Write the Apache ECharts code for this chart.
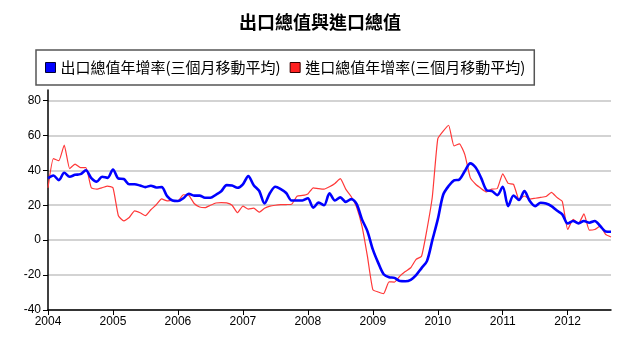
<!DOCTYPE html>
<html>
<head>
<meta charset="utf-8">
<script src="https://cdn.jsdelivr.net/npm/echarts@6/dist/echarts.min.js"></script>
<style>
  html, body { margin: 0; padding: 0; background: #fff; }
  #chart { width: 640px; height: 342px; }
</style>
</head>
<body>
<div id="chart"></div>
<script>
// Monthly observations, Jan 2004 – Sep 2012
const startYear = 2004;
const monthCount = 105;

// 出口總值年增率 (三個月移動平均), %
const exportGrowth = [
  35.4, 37.0, 34.4, 38.6, 36.3, 37.4, 37.8, 40.0, 35.5, 33.5, 36.3, 35.7,
  40.5, 35.3, 35.0, 32.0, 32.0, 31.3, 30.4, 31.2, 30.2, 30.4, 25.2, 22.7,
  22.4, 24.0, 26.6, 25.5, 25.5, 24.3, 24.3, 26.0, 28.0, 31.5, 31.3, 30.0,
  32.0, 36.7, 31.5, 28.3, 21.0, 27.0, 30.6, 29.2, 27.0, 22.7, 22.7, 22.7,
  24.0, 18.6, 21.5, 20.0, 26.8, 22.7, 24.5, 21.9, 23.5, 20.8, 11.9, 5.2,
  -5.3, -13.0, -19.5, -21.2, -21.6, -23.4, -23.5, -22.7, -20.0, -16.0, -12.0, 0.0,
  11.9, 26.0, 31.0, 34.2, 34.8, 39.6, 44.0, 41.6, 35.7, 28.7, 28.1, 25.8,
  30.6, 19.5, 25.6, 23.0, 28.1, 22.4, 19.5, 21.4, 21.0, 19.5, 17.0, 14.8,
  9.6, 11.0, 9.6, 11.0, 10.0, 11.0, 8.1, 5.0, 4.8
];

// 進口總值年增率 (三個月移動平均), %
const importGrowth = [
  30.0, 46.7, 45.5, 54.5, 41.0, 43.6, 41.5, 41.5, 30.0, 29.2, 30.0, 31.0,
  30.0, 14.0, 11.0, 13.0, 16.8, 15.7, 14.0, 17.4, 20.3, 23.6, 22.5, 22.7,
  22.5, 26.0, 25.7, 21.0, 19.0, 18.6, 20.0, 21.3, 21.5, 21.4, 20.0, 15.7,
  19.5, 17.8, 18.3, 16.0, 18.3, 19.5, 20.0, 20.3, 20.4, 20.6, 25.2, 25.6,
  26.5, 30.0, 29.5, 29.2, 30.6, 32.5, 35.2, 29.2, 25.0, 19.0, 8.0, -9.2,
  -28.3, -29.7, -30.6, -23.9, -24.0, -20.6, -18.0, -15.8, -11.0, -9.2, 6.1, 25.0,
  58.0, 62.4, 65.8, 54.0, 55.2, 49.0, 35.8, 32.0, 29.6, 27.6, 29.2, 29.6,
  38.0, 32.5, 32.0, 23.5, 25.3, 23.5, 24.0, 24.5, 25.0, 27.4, 24.5, 22.2,
  6.1, 11.9, 9.6, 15.0, 5.7, 6.1, 8.1, 3.3, 1.8
];

// One category per month; only Januaries get a year label
const months = [];
for (let i = 0; i < monthCount; i++) {
  const y = startYear + Math.floor(i / 12);
  const m = (i % 12) + 1;
  months.push(y + '-' + (m < 10 ? '0' + m : m));
}
const isJanuary = (idx) => idx % 12 === 0;

const latin = '"Liberation Sans", Arial, sans-serif';
const cjk = '"Noto Sans CJK TC", "Noto Sans CJK SC", sans-serif';

const chart = echarts.init(document.getElementById('chart'), null, { renderer: 'canvas' });
chart.setOption({
  animation: false,
  backgroundColor: '#ffffff',
  title: {
    text: '出口總值與進口總值',
    left: 'center',
    top: 8,
    textStyle: { fontFamily: cjk, fontSize: 18, fontWeight: 'bold', color: '#000' }
  },
  legend: {
    left: 36,
    top: 50,
    padding: [10, 9, 10, 9],
    itemGap: 9,
    itemWidth: 10,
    itemHeight: 10,
    borderColor: '#555',
    borderWidth: 1.5,
    textStyle: { fontFamily: cjk, fontSize: 15, color: '#000' },
    data: [
      { name: '出口總值年增率(三個月移動平均)', icon: 'rect', itemStyle: { color: '#0000ff', borderColor: '#000033', borderWidth: 1 } },
      { name: '進口總值年增率(三個月移動平均)', icon: 'rect', itemStyle: { color: '#ff2020', borderColor: '#330000', borderWidth: 1 } }
    ]
  },
  grid: { left: 48, right: 29, top: 90, bottom: 32, containLabel: false },
  xAxis: {
    type: 'category',
    data: months,
    boundaryGap: false,
    axisLine: { onZero: false, lineStyle: { color: '#000', width: 1.5 } },
    axisTick: { interval: (idx) => isJanuary(idx), length: 5, lineStyle: { color: '#000' } },
    axisLabel: {
      interval: (idx) => isJanuary(idx),
      formatter: (v) => v.slice(0, 4),
      fontFamily: latin, fontSize: 12, color: '#000', margin: 6
    },
    splitLine: { show: false }
  },
  yAxis: {
    type: 'value',
    min: -40,
    max: 86,
    interval: 20,
    axisLine: { show: true, lineStyle: { color: '#000', width: 1.5 } },
    axisTick: { show: true, length: 5, lineStyle: { color: '#000' } },
    axisLabel: {
      showMaxLabel: false,
      fontFamily: latin, fontSize: 12, color: '#000', margin: 7
    },
    splitLine: { show: true, showMaxLine: false, lineStyle: { color: '#c4c4c4', width: 1.5 } }
  },
  series: [
    {
      name: '出口總值年增率(三個月移動平均)',
      type: 'line',
      data: exportGrowth,
      showSymbol: false,
      smooth: 0.3,
      z: 3,
      lineStyle: { color: '#0000ff', width: 2.6 },
      itemStyle: { color: '#0000ff' }
    },
    {
      name: '進口總值年增率(三個月移動平均)',
      type: 'line',
      data: importGrowth,
      showSymbol: false,
      smooth: 0.15,
      z: 2,
      lineStyle: { color: '#ff3838', width: 1.2 },
      itemStyle: { color: '#ff2020' }
    }
  ]
});
</script>
</body>
</html>
